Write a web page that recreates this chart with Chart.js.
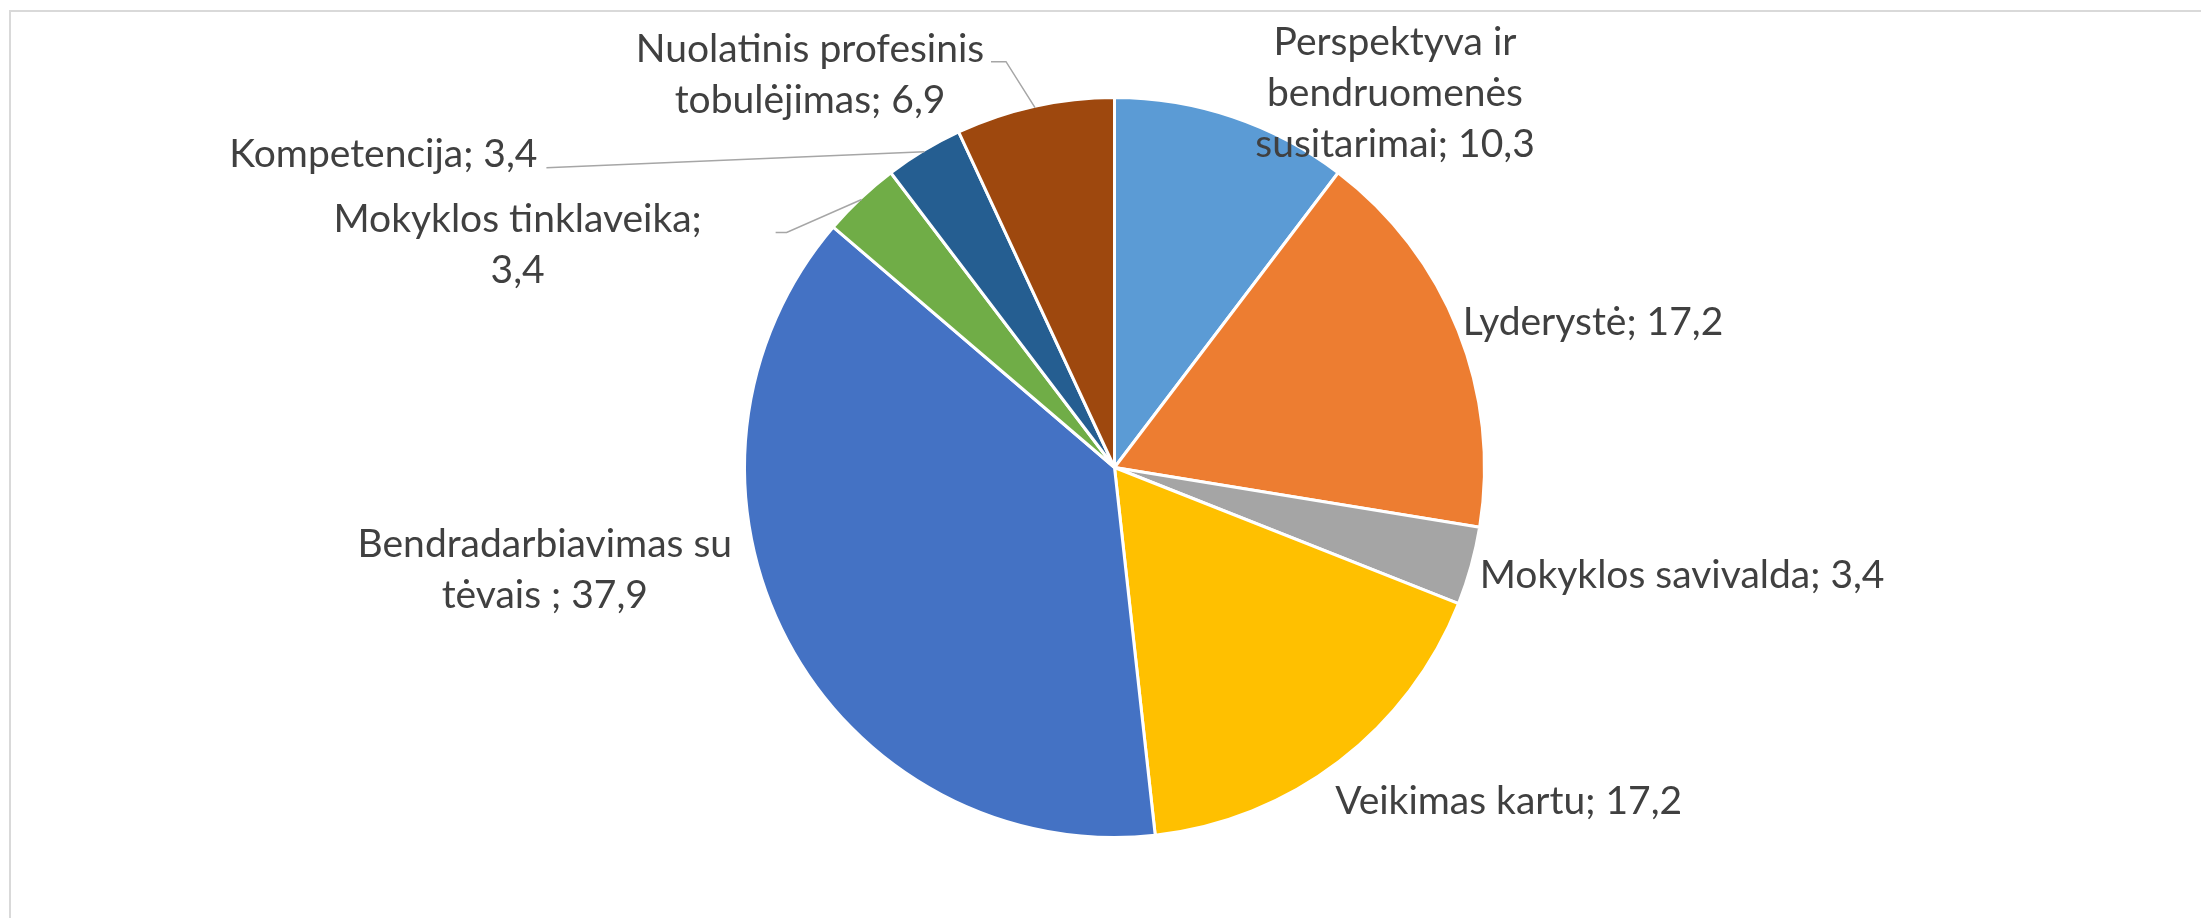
<!DOCTYPE html>
<html>
<head>
<meta charset="utf-8">
<script src="https://cdn.jsdelivr.net/npm/chart.js@4/dist/chart.umd.min.js"></script>
<style>
  html, body { margin: 0; padding: 0; background: #ffffff; overflow: hidden; width: 2201px; height: 918px; }
  #wrap { position: relative; width: 2201px; height: 918px; }
  #frame { position: absolute; left: 9px; top: 10px; width: 2400px; height: 1200px; border: 2px solid #D9D9D9; box-sizing: border-box; pointer-events: none; }
  canvas { position: absolute; left: 0; top: 0; }
</style>
</head>
<body>
<div id="wrap">
  <div id="frame"></div>
  <canvas id="c" width="2201" height="918" style="width:2201px;height:918px"></canvas>
</div>
<script>
// ---- data ----
const categories = [
  'Perspektyva ir bendruomenės susitarimai',
  'Lyderystė',
  'Mokyklos savivalda',
  'Veikimas kartu',
  'Bendradarbiavimas su tėvais ',
  'Mokyklos tinklaveika',
  'Kompetencija',
  'Nuolatinis profesinis tobulėjimas'
];
const values = [10.3, 17.2, 3.4, 17.2, 37.9, 3.4, 3.4, 6.9];
const sliceColors = ['#5B9BD5', '#ED7D31', '#A5A5A5', '#FFC000', '#4472C4', '#70AD47', '#255E91', '#9E480E'];

// ---- label layout (relative to the slice's mid-angle point on the rim) ----
const LABEL_FONT = '39px Lato';
const LINE_H = 51;
const labelLayout = [
  { words: [2, 1, 2], align: 'center', dx: 163, dy: -63 },
  { words: null, align: 'left', dx: 6, dy: 4 },
  { words: null, align: 'left', dx: 10, dy: 22 },
  { words: null, align: 'left', dx: -3, dy: 54 },
  { words: [2, 3], align: 'center', dx: -244, dy: -83 },
  { words: [2, 1], align: 'center', dx: -344, dy: 33, leader: [[-75, 33], [-86, 33]] },
  { words: null, align: 'center', dx: -541, dy: 15, leader: [[-378, 16]] },
  { words: [2, 2], align: 'center', dx: -225, dy: -46, leader: [[-29, -46], [-44, -46]] }
];

function labelText(i) {
  return categories[i] + '; ' + values[i].toFixed(1).replace('.', ',');
}
function splitLines(text, words) {
  if (!words) return [text];
  const w = text.split(' ');
  const out = [];
  let k = 0;
  words.forEach((n, j) => {
    if (j === words.length - 1) { out.push(w.slice(k).join(' ')); }
    else { out.push(w.slice(k, k + n).join(' ')); k += n; }
  });
  return out;
}

const labelPlugin = {
  id: 'excelLabels',
  afterDatasetsDraw(chart) {
    const ctx = chart.ctx;
    const meta = chart.getDatasetMeta(0);
    const bw = chart.data.datasets[0].borderWidth;
    ctx.save();
    meta.data.forEach((arc, i) => {
      const p = arc.getProps(['x', 'y', 'startAngle', 'endAngle', 'outerRadius'], true);
      const mid = (p.startAngle + p.endAngle) / 2;
      const r = p.outerRadius - bw / 2;
      const px = p.x + Math.cos(mid) * r;
      const py = p.y + Math.sin(mid) * r;
      const L = labelLayout[i];
      if (L.leader) {
        ctx.beginPath();
        ctx.strokeStyle = '#A6A6A6';
        ctx.lineWidth = 1.5;
        ctx.moveTo(px, py);
        L.leader.forEach(pt => ctx.lineTo(px + pt[0], py + pt[1]));
        ctx.stroke();
      }
      ctx.font = LABEL_FONT;
      ctx.fillStyle = '#404040';
      ctx.textAlign = L.align;
      ctx.textBaseline = 'alphabetic';
      const lines = splitLines(labelText(i), L.words);
      lines.forEach((ln, j) => {
        ctx.fillText(ln, px + L.dx, py + L.dy + j * LINE_H);
      });
    });
    ctx.restore();
  }
};

new Chart(document.getElementById('c'), {
  type: 'pie',
  data: {
    labels: categories,
    datasets: [{
      data: values,
      backgroundColor: sliceColors,
      borderColor: '#FFFFFF',
      borderWidth: 3,
      radius: 370
    }]
  },
  options: {
    responsive: false,
    animation: false,
    devicePixelRatio: 1,
    layout: { padding: { left: 28, top: 17, right: 0, bottom: 0 } },
    plugins: { legend: { display: false }, tooltip: { enabled: false } }
  },
  plugins: [labelPlugin]
});
</script>
</body>
</html>
